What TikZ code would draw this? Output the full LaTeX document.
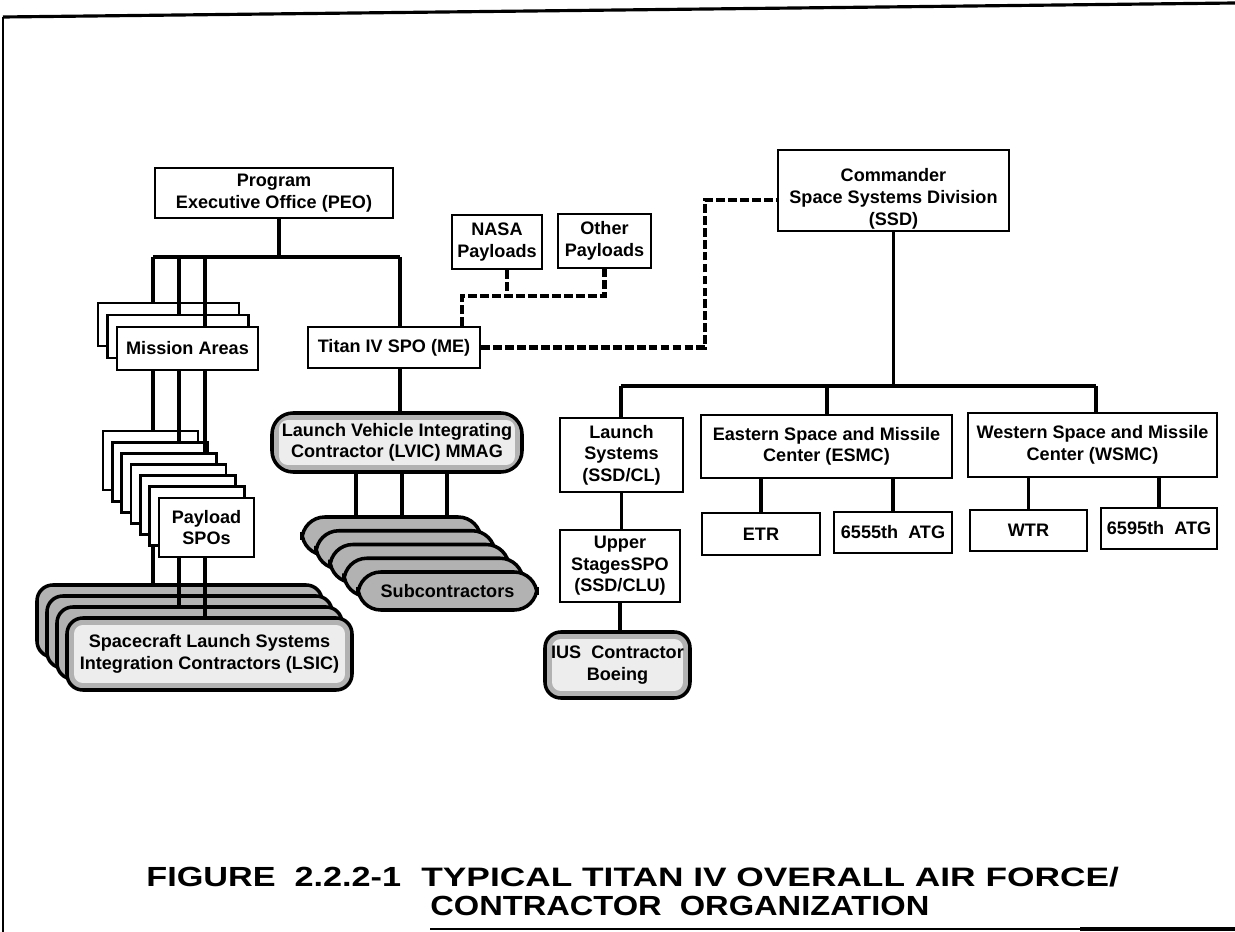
\documentclass[tikz,border=0pt]{standalone}
\usepackage{fontspec}
\setmainfont{Liberation Sans}

\begin{document}
\begin{tikzpicture}[
  x=0.02cm, y=-0.02cm,
  every node/.style={font=\bfseries\fontsize{10.3}{12.3}\selectfont, align=center, inner sep=0pt},
  sz/.style 2 args={minimum width=#1*0.02cm, minimum height=#2*0.02cm},
  box/.style={draw, line width=1.6pt, fill=white},
  contr/.style={draw, line width=2pt, rounded corners=9pt, fill=black!30},
  contrin/.style={contr, path picture={\fill[black!7, rounded corners=5pt]
      ([shift={(4pt,4pt)}]path picture bounding box.south west) rectangle
      ([shift={(-4pt,-4pt)}]path picture bounding box.north east);}},
  link/.style={line width=2.2pt},
  dotlink/.style={line width=2.4pt, dash pattern=on 5pt off 1.8pt},
  title/.style={font=\bfseries\fontsize{15}{18}\selectfont, anchor=base west}
]
\useasboundingbox (0,0) rectangle (1235,932);

% frame
\coordinate (tl) at (3,17);
\coordinate (tr) at (1235,3);
\coordinate (bl) at (3,932);
\coordinate (bb) at (430,929);
\coordinate (bm) at (1080,929);
\coordinate (br) at (1235,929);
\draw[line width=1.2pt] (bl) -- (tl);
\draw[line width=1.8pt] (tl) -- (tr);
\draw[line width=0.8pt] (bb) -- (bm);
\draw[line width=1.8pt] (bm) -- (br);

% air force side
\node[box, sz={238}{50}] (peo) at (274,193) {Program\\Executive Office (PEO)};
\node[box, sz={172}{41}] (spo) at (394,347.5) {Titan IV SPO (ME)};
\node[box, sz={90}{54}] (nasa) at (497,242) {NASA\\Payloads};
\node[box, sz={93}{54}] (oth) at (604.5,241) {Other\\Payloads};
\node[box, sz={231}{81}] (ssd) at (893.5,190.5) {\rule{0pt}{17pt}Commander\\Space Systems Division\\(SSD)};

\node[box, sz={123}{74}] (ls) at (621.5,455) {Launch\\Systems\\(SSD/CL)};
\node[box, sz={251}{63}] (esmc) at (826.5,446.5) {Eastern Space and Missile\\Center (ESMC)};
\node[box, sz={249}{64}] (wsmc) at (1092.5,445) {Western Space and Missile\\Center (WSMC)};
\node[box, sz={118}{42}] (etr) at (761,534) {ETR};
\node[box, sz={118}{41}] (atg1) at (893,532.5) {6555th~~ATG};
\node[box, sz={117}{41}] (wtr) at (1028.5,530.5) {WTR};
\node[box, sz={116}{41}] (atg2) at (1159,528.5) {6595th~~ATG};
\node[box, sz={120}{72}] (upper) at (620,566) {Upper\\StagesSPO\\(SSD/CLU)};
\node[contrin, sz={145}{66}] (ius) at (617.5,665) {IUS~~Contractor\\Boeing};

% stacks
\foreach \k in {2,1}
  \node[box, sz={141}{43}] (mis\k) at ({187.5-9.5*\k},{348.5-12*\k}) {};
\node[box, sz={141}{43}] (mis0) at (187.5,348.5) {Mission Areas};

\foreach \k in {6,...,1}
  \node[box, sz={95}{59}] (pay\k) at ({206.5-9.33*\k},{527.5-11.17*\k}) {};
\node[box, sz={95}{59}] (pay0) at (206.5,527.5) {Payload\\SPOs};

\foreach \k in {3,2,1}
  \node[contr, sz={285}{72}] (lsic\k) at ({209.5-10*\k},{654-11*\k}) {};
\node[contrin, sz={285}{72}] (lsic0) at (209.5,654) {Spacecraft Launch Systems\\Integration Contractors (LSIC)};

\node[contrin, sz={250}{59}, rounded corners=12pt] (lvic) at (397,442.5) {Launch Vehicle Integrating\\Contractor (LVIC) MMAG};
\foreach \k in {4,...,1}
  \node[contr, rounded corners=13pt, sz={179}{38}] (sub\k) at ({447.5-14*\k},{591-13.75*\k}) {};
\node[contr, rounded corners=13pt, sz={179}{38}] (sub0) at (447.5,591) {Subcontractors};

% PEO tree
\coordinate (pb1) at (153,257);
\coordinate (pb2) at (179,257);
\coordinate (pb3) at (205,257);
\coordinate (pb4) at (400,257);
\draw[link] (pb1) -- (pb4);
\draw[link] (peo.south -| 279,0) -- (279,257);
\draw[link] (pb1) -- (pb1 |- mis2.north);
\draw[link] (pb2) -- (pb2 |- mis1.north);
\draw[link] (pb3) -- (pb3 |- mis0.north);
\draw[link] (pb4) -- (pb4 |- spo.north);
\draw[link] (pb1 |- mis0.south) -- (pb1 |- pay6.north);
\draw[link] (pb2 |- mis0.south) -- (pb2 |- pay5.north);
\draw[link] (pb3 |- mis0.south) -- (pb3 |- pay4.north);
\draw[link] (pb1 |- pay1.south) -- (pb1 |- lsic3.north);
\draw[link] (pb2 |- pay0.south) -- (pb2 |- lsic1.north);
\draw[link] (pb3 |- pay0.south) -- (pb3 |- lsic0.north);
\draw[link] (pb4 |- spo.south) -- (pb4 |- lvic.north);
\foreach \x in {356,402,447} {
  \coordinate (s) at (\x,0);
  \draw[link] (s |- lvic.south) -- (s |- sub4.north);
}

% SSD tree
\coordinate (sb1) at (621,386);
\coordinate (sb2) at (827,386);
\coordinate (sb3) at (1096,386);
\draw[link] (sb1) -- (sb3);
\draw[link] (ssd.south) -- (ssd.south |- sb1);
\draw[link] (sb1) -- (sb1 |- ls.north);
\draw[link] (sb2) -- (sb2 |- esmc.north);
\draw[link] (sb3) -- (sb3 |- wsmc.north);
\draw[link] (ls.south) -- (ls.south |- upper.north);
\draw[link] (upper.south) -- (upper.south |- ius.north);
\draw[link] (etr.north) -- (etr.north |- esmc.south);
\draw[link] (atg1.north) -- (atg1.north |- esmc.south);
\draw[link] (wtr.north) -- (wtr.north |- wsmc.south);
\draw[link] (atg2.north) -- (atg2.north |- wsmc.south);

% payload and SSD links
\coordinate (dj) at (462,296);
\coordinate (nj) at (507,296);
\coordinate (dk) at (705,200);
\draw[dotlink] (dj |- spo.north) -- (dj) -- (dj -| oth.south) -- (oth.south);
\draw[dotlink] (nasa.south -| nj) -- (nj);
\draw[dotlink] (spo.east) -| (dk) -- (dk -| ssd.west);

% caption
\node[title] (fig) at (146,886) {\resizebox{145pt}{11pt}{FIGURE~~2.2.2-1}};
\node[title] (cap1) at (421,886) {\resizebox{397pt}{11pt}{TYPICAL TITAN IV OVERALL AIR FORCE/}};
\node[title] (cap2) at (430,915) {\resizebox{284pt}{11pt}{CONTRACTOR~~ORGANIZATION}};
\end{tikzpicture}
\end{document}
